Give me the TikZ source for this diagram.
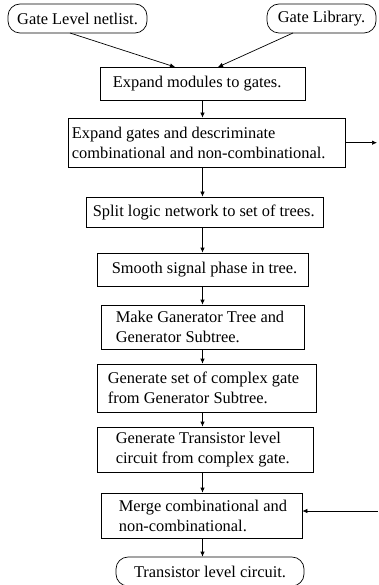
\documentclass[tikz,border=0pt]{standalone}
\usepackage{fontspec}
\setmainfont{Liberation Serif}
\usetikzlibrary{arrows.meta}
\tikzset{
  box/.style={draw, line width=0.7pt, inner sep=0pt, rectangle},
  term/.style={draw, line width=0.7pt, inner sep=0pt, rectangle, rounded corners=12pt, font=\fontsize{16.4}{20}\selectfont},
  txt/.style={inner sep=0pt, anchor=west, align=left, font=\fontsize{16.4}{20}\selectfont},
  arr/.style={line width=0.7pt, -{Latex[length=5pt,width=4.5pt]}},
}
\newcommand{\bx}[7]{% name, x1, y1, x2, y2, pad, text
  \node[box, minimum width=#4pt-#2pt, minimum height=#5pt-#3pt] (#1) at ({(#2+#4)/2},{(#3+#5)/2}) {};
  \node[txt] (#1t) at ([xshift=#6pt]#1.west) {#7};
}
\begin{document}
\begin{tikzpicture}[x=1pt,y=-1pt]
\useasboundingbox (0,0) rectangle (378,585);
\node[term, minimum width=139pt, minimum height=29pt] (gln) at (77.5,18.5) {Gate Level netlist.};
\node[term, minimum width=109pt, minimum height=29pt] (glib) at (321.5,18.5) {Gate Library.};
\bx{b1}{100}{67}{305}{100}{13}{Expand modules to gates.}
\bx{b2}{68}{118}{345}{167}{4}{Expand gates and descriminate\\combinational and non-combinational.}
\bx{b3}{86}{197}{323}{227}{7}{Split logic network to set of trees.}
\bx{b4}{97}{253}{308}{286}{15}{Smooth signal phase in tree.}
\bx{b5}{101}{305}{304}{349}{15}{Make Ganerator Tree and\\Generator Subtree.}
\bx{b6}{97}{364}{316}{412}{11}{Generate set of complex gate\\from Generator Subtree.}
\bx{b7}{97}{427}{313}{472}{19}{Generate Transistor level\\circuit from complex gate.}
\bx{b8}{101}{493}{302}{538}{18}{Merge combinational and\\non-combinational.}
\node[term, minimum width=188pt, minimum height=29pt] (fin) at (210,571.5) {Transistor level circuit.};
\coordinate (outR) at (377,142.7);
\coordinate (inR) at (378,511);
\draw[arr] (70,33) -- (175,67);
\draw[arr] (293,33) -- (218,67);
\draw[arr] (b1.south) -- (b2.north -| b1.south);
\draw[arr] (b2.east |- outR) -- (outR);
\draw[arr] (b2.south -| b1.south) -- (b3.north -| b1.south);
\draw[arr] (b3.south -| b1.south) -- (b4.north -| b1.south);
\draw[arr] (b4.south -| b1.south) -- (b5.north -| b1.south);
\draw[arr] (b5.south -| b1.south) -- (b6.north -| b1.south);
\draw[arr] (b6.south -| b1.south) -- (b7.north -| b1.south);
\draw[arr] (b7.south -| b1.south) -- (b8.north -| b1.south);
\draw[arr] (b8.south -| b1.south) -- (fin.north -| b1.south);
\draw[arr] (inR) -- (b8.east |- inR);
\end{tikzpicture}
\end{document}
